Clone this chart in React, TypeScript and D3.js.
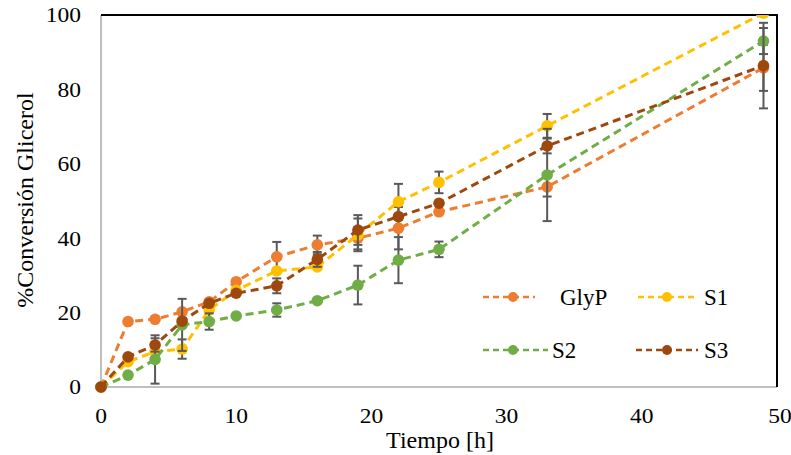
import React from "react";
import * as d3 from "d3";

const times = [0, 2, 4, 6, 8, 10, 13, 16, 19, 22, 25, 33, 49];
const glyP = [0, 17.6, 18.2, 20.2, 22.9, 28.3, 35.0, 38.2, 40.0, 42.7, 47.1, 53.8, 85.8];
const glyPErr = [0, 0, 0, 0, 0, 0, 4, 2.5, 3, 5.7, 0, 2.6, 6.2];
const s1 = [0, 6.8, 9.5, 10.2, 20.7, 26.0, 31.2, 32.3, 40.9, 49.8, 55.0, 70.2, 100.5];
const s1Err = [0, 0, 0, 2.6, 0, 0, 0, 0, 4.4, 4.8, 2.9, 3.2, 0];
const s2 = [0, 3.2, 7.4, 16.7, 17.6, 19.1, 20.7, 23.2, 27.4, 34.1, 37.0, 57.0, 93.0];
const s2Err = [0, 0, 6.5, 7, 2.2, 0, 1.8, 0, 5.2, 6.2, 2.1, 12.4, 3.5];
const s3 = [0, 8.1, 11.3, 17.7, 22.5, 25.2, 27.2, 34.3, 42.2, 45.8, 49.4, 64.8, 86.4];
const s3Err = [0, 0, 1.8, 0, 0, 0, 2, 2, 4, 0, 0, 2, 11.5];

const seriesNames = ["GlyP", "S1", "S2", "S3"];
const seriesColors = ["#ED7D31", "#FFC000", "#70AD47", "#9E480E"];
const xTicks = [0, 10, 20, 30, 40, 50];
const yTicks = [0, 20, 40, 60, 80, 100];

const W = 791;
const H = 455;
const FONT = "'Liberation Serif', 'Times New Roman', serif";

export default function App() {
  const left = 101, right = 777, top = 15, bottom = 387;
  const x = d3.scaleLinear().domain([0, 50]).range([left, right]);
  const y = d3.scaleLinear().domain([0, 100]).range([bottom, top]);
  const values = [glyP, s1, s2, s3];
  const errs = [glyPErr, s1Err, s2Err, s3Err];
  const line = d3
    .line<number>()
    .x((_, i) => x(times[i]))
    .y((d) => y(d));

  const legendItems = [
    { lx0: 483, lx1: 535, mx: 513, tx: 560, ty: 297 },
    { lx0: 638, lx1: 698, mx: 667, tx: 704, ty: 297 },
    { lx0: 483, lx1: 548, mx: 513, tx: 552, ty: 350 },
    { lx0: 636, lx1: 698, mx: 667, tx: 704, ty: 350 },
  ];

  return (
    <svg
      width={W}
      height={H}
      style={{ position: "absolute", left: 0, top: 0, background: "#fff" }}
      fontFamily={FONT}
    >
      <defs>
        <clipPath id="plotClip">
          <rect x={left - 10} y={top} width={right - left + 20} height={bottom - top + 12} />
        </clipPath>
      </defs>
      {/* axes */}
      <line x1={left} y1={top} x2={left} y2={bottom} stroke="#BFBFBF" strokeWidth={2} />
      <line x1={left} y1={bottom} x2={right} y2={bottom} stroke="#BFBFBF" strokeWidth={2} />
      <line x1={left} y1={top} x2={right + 1} y2={top} stroke="#000" strokeWidth={2} />
      <line x1={right} y1={top} x2={right} y2={bottom} stroke="#000" strokeWidth={2} />

      {yTicks.map((t) => (
        <text
          key={"y" + t}
          transform={`translate(81,${y(t)}) scale(1.12,1)`}
          dy="0.35em"
          textAnchor="end"
          fontSize={21}
          fill="#000"
        >
          {t}
        </text>
      ))}
      {xTicks.map((t) => (
        <text
          key={"x" + t}
          transform={`translate(${x(t) + (t === 50 ? 3 : 0)},423) scale(1.12,1)`}
          textAnchor="middle"
          fontSize={21}
          fill="#000"
        >
          {t}
        </text>
      ))}
      <text x={440} y={448} textAnchor="middle" fontSize={24} fill="#000">
        Tiempo [h]
      </text>
      <text
        transform={`translate(33,200) rotate(-90)`}
        textAnchor="middle"
        fontSize={24}
        fill="#000"
      >
        %Conversión Glicerol
      </text>

      <g clipPath="url(#plotClip)">
        {values.map((vals, si) => (
          <g key={seriesNames[si]}>
            <path
              d={line(vals) || ""}
              fill="none"
              stroke={seriesColors[si]}
              strokeWidth={3}
              strokeDasharray="8,5"
            />
            {errs[si].map((e, i) =>
              e > 0 ? (
                <g key={i} stroke="#595959" strokeWidth={2}>
                  <line x1={x(times[i])} x2={x(times[i])} y1={y(vals[i] + e)} y2={y(vals[i] - e)} />
                  <line x1={x(times[i]) - 4.5} x2={x(times[i]) + 4.5} y1={y(vals[i] + e)} y2={y(vals[i] + e)} />
                  <line x1={x(times[i]) - 4.5} x2={x(times[i]) + 4.5} y1={y(vals[i] - e)} y2={y(vals[i] - e)} />
                </g>
              ) : null
            )}
            {vals.map((v, i) => (
              <circle key={i} cx={x(times[i])} cy={y(v)} r={5.8} fill={seriesColors[si]} />
            ))}
          </g>
        ))}
      </g>

      {legendItems.map((it, si) => (
        <g key={"leg" + si}>
          <line
            x1={it.lx0}
            x2={it.lx1}
            y1={it.ty}
            y2={it.ty}
            stroke={seriesColors[si]}
            strokeWidth={2.5}
            strokeDasharray="6,4"
          />
          <circle cx={it.mx} cy={it.ty} r={5} fill={seriesColors[si]} />
          <text x={it.tx} y={it.ty} dy="0.35em" fontSize={23} fill="#000">
            {seriesNames[si]}
          </text>
        </g>
      ))}
    </svg>
  );
}
